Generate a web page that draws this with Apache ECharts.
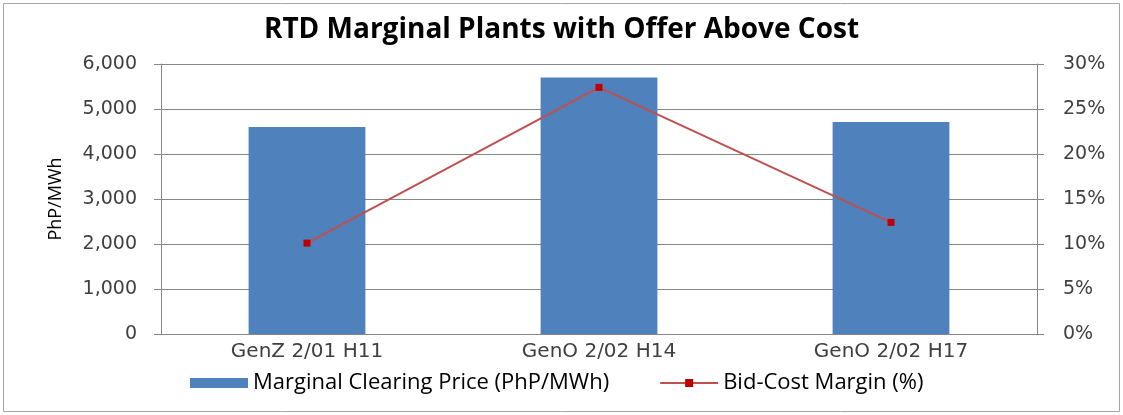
<!DOCTYPE html>
<html>
<head>
<meta charset="utf-8">
<script src="https://cdn.jsdelivr.net/npm/echarts@6/dist/echarts.min.js"></script>
<style>
  html, body { margin: 0; padding: 0; background: #fff; }
  #main { width: 1123px; height: 415px; }
</style>
</head>
<body>
<div id="main"></div>
<script>
// chart data
const categories = ['GenZ 2/01 H11', 'GenO 2/02 H14', 'GenO 2/02 H17'];
const clearingPrice = [4600, 5700, 4710];
const bidCostMargin = [10.1, 27.4, 12.4];
const seriesNames = ['Marginal Clearing Price (PhP/MWh)', 'Bid-Cost Margin (%)'];

const chart = echarts.init(document.getElementById('main'));
const axisGray = '#868686';
const wideFont = '"DejaVu Sans", Verdana, sans-serif';

chart.setOption({
  animation: false,
  backgroundColor: '#fff',
  title: {
    text: 'RTD Marginal Plants with Offer Above Cost',
    left: 'center',
    top: 11,
    textStyle: { fontFamily: 'Open Sans', fontWeight: 'bold', fontSize: 28, color: '#000' }
  },
  graphic: [{
    type: 'rect',
    shape: { x: 3.5, y: 3.5, width: 1116, height: 408 },
    style: { fill: 'none', stroke: '#a6a6a6', lineWidth: 1 },
    silent: true
  }],
  legend: {
    bottom: 16,
    left: 185,
    itemGap: 50,
    itemWidth: 58,
    itemHeight: 10,
    textStyle: { fontFamily: 'Open Sans', fontSize: 22, color: '#000' },
    data: [
      { name: seriesNames[0], icon: 'rect' },
      { name: seriesNames[1] }
    ]
  },
  grid: { left: 161, right: 86, top: 64, bottom: 81 },
  xAxis: {
    type: 'category',
    data: categories,
    axisLine: { lineStyle: { color: axisGray } },
    axisTick: { length: 6, lineStyle: { color: axisGray } },
    axisLabel: { fontFamily: wideFont, fontSize: 20, color: '#404040', margin: 8 }
  },
  yAxis: [{
    type: 'value',
    min: 0, max: 6000, interval: 1000,
    name: 'PhP/MWh',
    nameLocation: 'middle',
    nameRotate: 90,
    nameGap: 96,
    nameTextStyle: { fontFamily: 'Open Sans', fontSize: 18, color: '#000' },
    axisLine: { show: true, lineStyle: { color: axisGray } },
    axisTick: { show: true, length: 7, lineStyle: { color: axisGray } },
    splitLine: { lineStyle: { color: axisGray } },
    axisLabel: {
      fontFamily: wideFont, fontSize: 19, color: '#404040', margin: 24,
      formatter: v => v.toLocaleString('en-US')
    }
  }, {
    type: 'value',
    min: 0, max: 30, interval: 5,
    position: 'right',
    axisLine: { show: true, lineStyle: { color: axisGray } },
    axisTick: { show: true, length: 7, lineStyle: { color: axisGray } },
    splitLine: { show: false },
    axisLabel: {
      fontFamily: wideFont, fontSize: 19, color: '#404040', margin: 26,
      formatter: '{value}%'
    }
  }],
  series: [{
    name: seriesNames[0],
    type: 'bar',
    data: clearingPrice,
    barWidth: '40%',
    itemStyle: { color: '#4F81BD' }
  }, {
    name: seriesNames[1],
    type: 'line',
    yAxisIndex: 1,
    data: bidCostMargin,
    symbol: 'rect',
    symbolSize: 7,
    itemStyle: { color: '#C00000' },
    lineStyle: { color: '#C0504D', width: 2 }
  }]
});
</script>
</body>
</html>
